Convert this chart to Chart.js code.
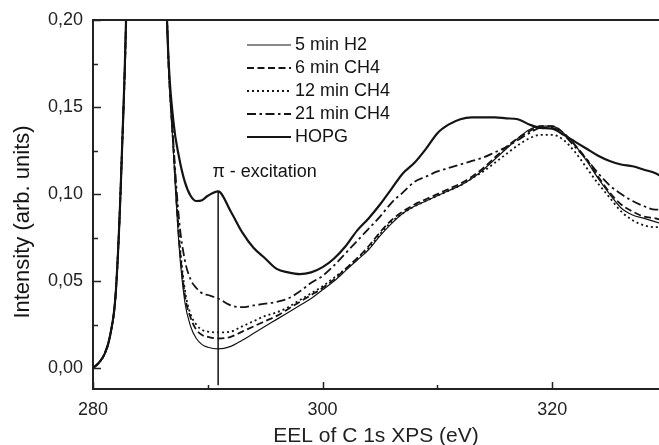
<!DOCTYPE html>
<html lang="en">
<head>
<meta charset="UTF-8">
<title>EEL of C 1s XPS</title>
<script src="https://cdn.jsdelivr.net/npm/chart.js"></script>
<style>
  html, body { margin: 0; padding: 0; background: #fff; }
</style>
</head>
<body>
<canvas id="myChart" width="659" height="445"></canvas>
<script>
// energy loss (eV), shared by every curve
const energy = [280, 280.5, 281, 281.5, 282, 282.5, 283, 284, 284.7, 285.5, 286,
  286.5, 287, 287.5, 288, 288.5, 289, 289.5, 290, 290.9,
  292, 293, 294, 295, 296, 297, 298, 299, 300, 301, 302, 303, 304, 305, 306, 307, 308, 309, 310,
  311, 312, 313, 314, 315, 316, 317, 318, 319, 320, 321, 322, 323, 324, 325, 326, 327, 328, 329, 329.5];

// intensities (arb. units); the zero loss peak runs off the top
const h2_5min = [0, 0.003, 0.008, 0.019, 0.045, 0.12, 0.24, 0.8, 1.0, 0.7, 0.33,
  0.19, 0.125, 0.07, 0.038, 0.024, 0.017, 0.0135, 0.012, 0.011,
  0.0125, 0.016, 0.020, 0.024, 0.028, 0.032, 0.036, 0.040, 0.045, 0.050, 0.056, 0.062, 0.068, 0.076, 0.083, 0.089, 0.093, 0.096, 0.099,
  0.102, 0.105, 0.109, 0.114, 0.120, 0.126, 0.132, 0.137, 0.139, 0.139, 0.135, 0.128, 0.119, 0.109, 0.100, 0.092, 0.088, 0.086, 0.084, 0.083];

const ch4_6min = [0, 0.003, 0.008, 0.019, 0.045, 0.12, 0.24, 0.8, 1.0, 0.7, 0.33,
  0.19, 0.127, 0.074, 0.042, 0.029, 0.022, 0.019, 0.018, 0.017,
  0.018, 0.021, 0.024, 0.027, 0.030, 0.034, 0.038, 0.042, 0.046, 0.051, 0.057, 0.063, 0.070, 0.078, 0.085, 0.090, 0.094, 0.097, 0.100,
  0.103, 0.106, 0.110, 0.115, 0.121, 0.127, 0.132, 0.136, 0.139, 0.139, 0.135, 0.128, 0.120, 0.110, 0.101, 0.094, 0.090, 0.087, 0.086, 0.085];

const ch4_12min = [0, 0.003, 0.008, 0.019, 0.045, 0.12, 0.24, 0.8, 1.0, 0.7, 0.33,
  0.19, 0.128, 0.076, 0.045, 0.031, 0.025, 0.022, 0.021, 0.0205,
  0.021, 0.024, 0.027, 0.030, 0.032, 0.035, 0.039, 0.043, 0.047, 0.052, 0.057, 0.063, 0.069, 0.077, 0.084, 0.089, 0.093, 0.096, 0.099,
  0.102, 0.105, 0.109, 0.113, 0.118, 0.123, 0.128, 0.132, 0.134, 0.134, 0.131, 0.124, 0.115, 0.106, 0.098, 0.090, 0.085, 0.082, 0.081, 0.081];

const ch4_21min = [0, 0.003, 0.008, 0.019, 0.045, 0.12, 0.24, 0.8, 1.0, 0.7, 0.33,
  0.19, 0.13, 0.085, 0.062, 0.051, 0.046, 0.043, 0.042, 0.040,
  0.036, 0.035, 0.036, 0.037, 0.038, 0.040, 0.044, 0.049, 0.053, 0.059, 0.066, 0.073, 0.080, 0.087, 0.095, 0.101, 0.107, 0.110, 0.113,
  0.115, 0.117, 0.119, 0.121, 0.124, 0.127, 0.131, 0.135, 0.138, 0.138, 0.134, 0.127, 0.120, 0.112, 0.105, 0.100, 0.096, 0.093, 0.091, 0.091];

const hopg = [0, 0.003, 0.008, 0.019, 0.045, 0.12, 0.24, 0.8, 1.0, 0.7, 0.33,
  0.19, 0.142, 0.121, 0.107, 0.099, 0.096, 0.0965, 0.099, 0.1015,
  0.090, 0.078, 0.069, 0.063, 0.057, 0.055, 0.054, 0.055, 0.058, 0.063, 0.070, 0.079, 0.086, 0.094, 0.103, 0.112, 0.118, 0.126, 0.135,
  0.140, 0.143, 0.144, 0.144, 0.144, 0.1435, 0.143, 0.140, 0.138, 0.1375, 0.134, 0.130, 0.126, 0.122, 0.119, 0.117, 0.116, 0.114, 0.112, 0.110];

// marker line for the pi excitation
const piLineX = [290.9, 290.9];
const piLineY = [0.1015, -0.0098];
const piLabel = 'π - excitation';

const seriesNames = ['5 min H2', '6 min CH4', '12 min CH4', '21 min CH4', 'HOPG'];

const xMajor = [280, 300, 320];
const xMinor = [290, 310];
const yMajor = [0, 0.05, 0.10, 0.15, 0.20];
const yMinor = [0.025, 0.075, 0.125, 0.175];

const FONT = '"Liberation Sans", Arial, Helvetica, sans-serif';
const INK = '#141414';

function pts(ys) {
  return energy.map((e, i) => ({ x: e, y: ys[i] }));
}

function line(label, ys, width, dash) {
  return {
    label: label,
    data: pts(ys),
    borderColor: INK,
    borderWidth: width,
    borderDash: dash,
    pointRadius: 0,
    fill: false,
    cubicInterpolationMode: 'monotone'
  };
}

// inward ticks, top border, pi label, y title and legend
const frame = {
  id: 'frame',
  afterDraw(chart) {
    const { ctx, chartArea: a, scales: { x, y } } = chart;
    ctx.save();
    ctx.strokeStyle = '#222';
    ctx.lineWidth = 2;
    ctx.beginPath();
    ctx.moveTo(a.left - 1, a.top);
    ctx.lineTo(a.right, a.top);
    ctx.stroke();

    ctx.lineWidth = 1.5;
    ctx.beginPath();
    yMajor.forEach(v => { const p = Math.round(y.getPixelForValue(v)) + 0.5; ctx.moveTo(a.left, p); ctx.lineTo(a.left + 8, p); });
    yMinor.forEach(v => { const p = Math.round(y.getPixelForValue(v)) + 0.5; ctx.moveTo(a.left, p); ctx.lineTo(a.left + 5, p); });
    xMajor.forEach(v => { const p = Math.round(x.getPixelForValue(v)) + 0.5; ctx.moveTo(p, a.bottom); ctx.lineTo(p, a.bottom - 7); });
    xMinor.forEach(v => { const p = Math.round(x.getPixelForValue(v)) + 0.5; ctx.moveTo(p, a.bottom); ctx.lineTo(p, a.bottom - 4); });
    ctx.stroke();

    ctx.fillStyle = INK;
    ctx.textBaseline = 'middle';
    ctx.textAlign = 'left';
    ctx.font = '18px ' + FONT;
    ctx.fillText(piLabel, x.getPixelForValue(290.4), y.getPixelForValue(0.1125));

    // y axis title
    ctx.save();
    ctx.translate(23, 222);
    ctx.rotate(-Math.PI / 2);
    ctx.textAlign = 'center';
    ctx.font = '22px ' + FONT;
    ctx.fillText('Intensity (arb. units)', 0, 0);
    ctx.restore();

    // legend
    ctx.font = '18px ' + FONT;
    let row = 0;
    chart.data.datasets.forEach(ds => {
      if (!ds.label) return;
      const yy = 45 + row * 23;
      ctx.strokeStyle = ds.borderColor;
      ctx.lineWidth = ds.borderWidth;
      ctx.setLineDash(ds.borderDash || []);
      ctx.beginPath();
      ctx.moveTo(247, yy);
      ctx.lineTo(291, yy);
      ctx.stroke();
      ctx.setLineDash([]);
      ctx.fillText(ds.label, 295, yy);
      row++;
    });
    ctx.restore();
  }
};

const ctx = document.getElementById('myChart').getContext('2d');
new Chart(ctx, {
  type: 'line',
  data: {
    datasets: [
      line(seriesNames[0], h2_5min, 1.2, []),
      line(seriesNames[1], ch4_6min, 1.8, [7, 3.5]),
      line(seriesNames[2], ch4_12min, 1.8, [2, 3]),
      line(seriesNames[3], ch4_21min, 1.8, [9, 3.5, 2.5, 3.5]),
      line(seriesNames[4], hopg, 2.2, []),
      {
        label: '',
        data: piLineX.map((v, i) => ({ x: v, y: piLineY[i] })),
        borderColor: INK,
        borderWidth: 1.5,
        pointRadius: 0,
        fill: false
      }
    ]
  },
  options: {
    responsive: false,
    animation: false,
    events: [],
    layout: { padding: { top: 20, right: 0, bottom: 0, left: 0 } },
    plugins: {
      legend: { display: false },
      tooltip: { enabled: false }
    },
    scales: {
      x: {
        type: 'linear',
        min: 280,
        max: 329.3,
        grid: { display: false },
        border: { display: true, color: '#222', width: 2 },
        ticks: {
          stepSize: 20,
          includeBounds: false,
          autoSkip: false,
          maxRotation: 0,
          padding: 2,
          color: '#222',
          font: { family: FONT, size: 18 }
        },
        title: {
          display: true,
          text: 'EEL of C 1s XPS (eV)',
          color: '#222',
          padding: 0,
          font: { family: FONT, size: 21, lineHeight: 0.8 }
        },
        afterFit: s => { s.height = 56; }
      },
      y: {
        min: -0.012,
        max: 0.2,
        grid: { display: false },
        border: { display: true, color: '#222', width: 2 },
        ticks: {
          stepSize: 0.05,
          includeBounds: false,
          padding: 2,
          color: '#222',
          font: { family: FONT, size: 18 },
          callback: v => v.toFixed(2).replace('.', ',')
        },
        afterFit: s => { s.width = 93; }
      }
    }
  },
  plugins: [frame]
});
</script>
</body>
</html>
